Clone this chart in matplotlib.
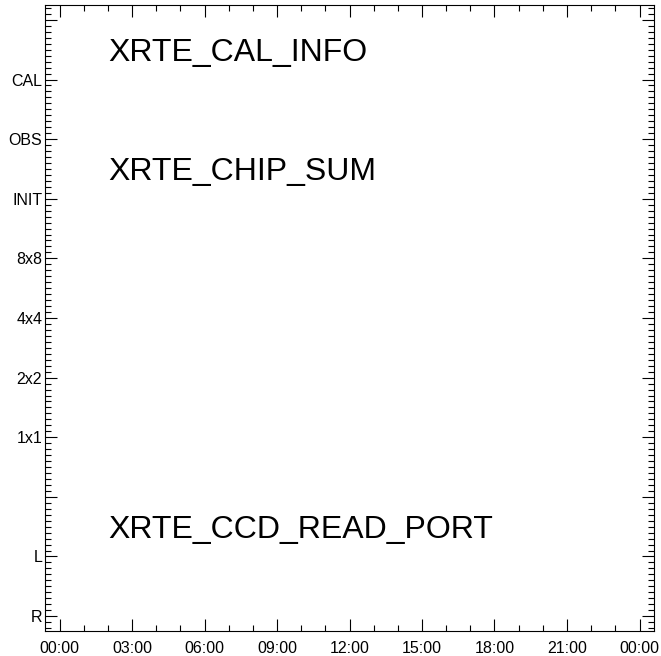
import matplotlib
matplotlib.use("Agg")
import matplotlib.pyplot as plt
import matplotlib.transforms as mtransforms
from matplotlib.ticker import MultipleLocator, FixedLocator

plt.rcParams['font.family'] = ['Liberation Sans', 'DejaVu Sans']

# Data
y_categories = ['R', 'L', '', '1x1', '2x2', '4x4', '8x8', 'INIT', 'OBS', 'CAL', '']
x_tick_hours = [0, 3, 6, 9, 12, 15, 18, 21, 24]
x_tick_labels = ['00:00', '03:00', '06:00', '09:00', '12:00', '15:00', '18:00', '21:00', '00:00']
panel_names = ['XRTE_CAL_INFO', 'XRTE_CHIP_SUM', 'XRTE_CCD_READ_PORT']
panel_rows = [9.5, 7.5, 1.5]
panel_start_hour = 2.0

W, H = 661, 656
fig = plt.figure(figsize=(W / 100, H / 100), dpi=100)
ax = fig.add_axes([45 / W, (H - 631) / H, (654 - 45) / W, (631 - 5) / H])

ax.set_xlim(-0.6, 24.6)
ax.set_ylim(-0.25, 10.25)

ax.xaxis.set_major_locator(FixedLocator(x_tick_hours))
ax.set_xticklabels(x_tick_labels)
ax.xaxis.set_minor_locator(MultipleLocator(1))

ax.yaxis.set_major_locator(FixedLocator(list(range(len(y_categories)))))
ax.set_yticklabels(y_categories)
ax.yaxis.set_minor_locator(MultipleLocator(0.1))

ax.tick_params(which='both', direction='in', top=True, right=True, width=0.8, colors='black')
ax.tick_params(which='major', length=8.6, labelsize=11.5)
ax.tick_params(axis='y', which='major', pad=2)
ax.tick_params(axis='x', which='major', pad=7)
ax.tick_params(which='minor', length=4.3)
for s in ax.spines.values():
    s.set_linewidth(0.8)

shift = mtransforms.offset_copy(ax.transData, fig=fig, x=0, y=-3, units='dots')
for name, row in zip(panel_names, panel_rows):
    ax.text(panel_start_hour, row, name, fontsize=23, ha='left', va='center',
            transform=shift)

fig.savefig('out.png', dpi=100)
